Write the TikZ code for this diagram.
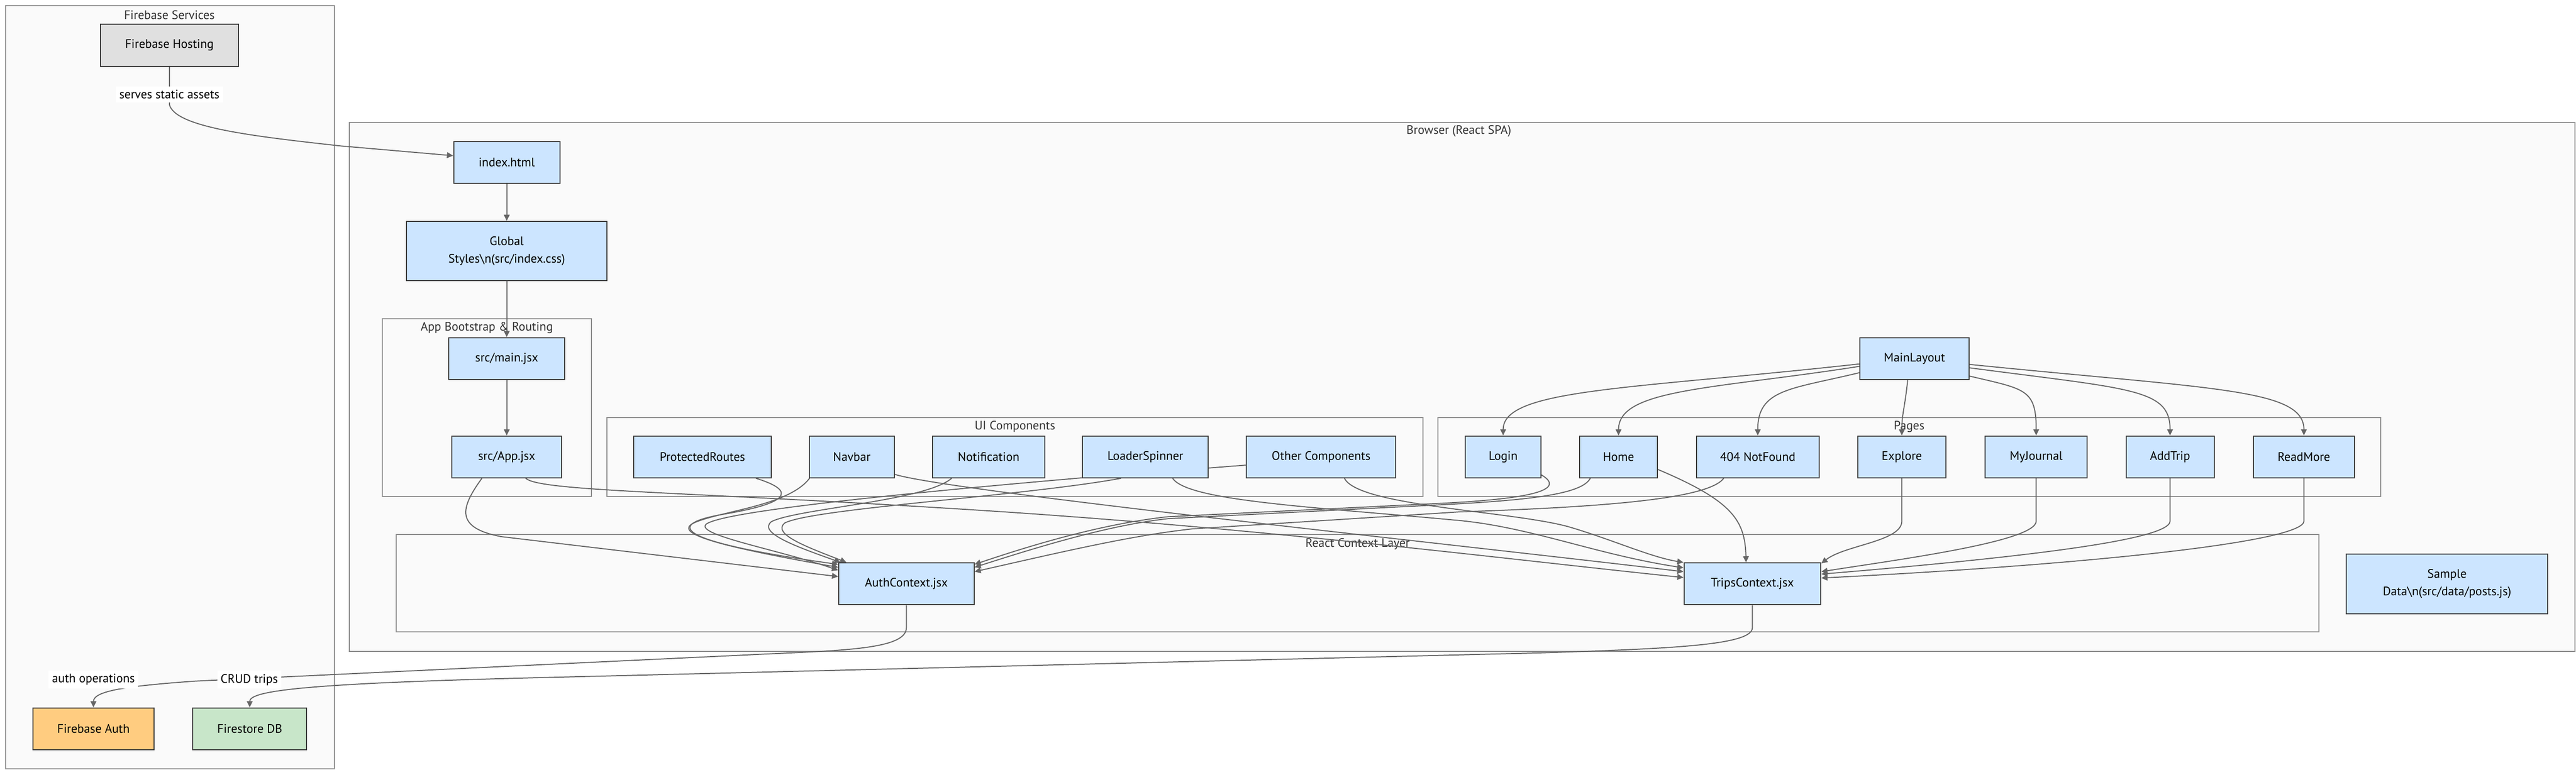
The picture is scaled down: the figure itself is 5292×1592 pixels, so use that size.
\documentclass[tikz,border=0pt]{standalone}
\usepackage{fontspec}
\setmainfont{PT Sans}
\usetikzlibrary{calc,arrows.meta}
\tikzset {>={Triangle[length=3.6pt,width=3.4pt]}}
\newcommand*{\bsn}{\textbackslash n}
\definecolor{reactblue}{HTML}{CCE5FF}
\definecolor{boxline}{HTML}{3A3A3A}
\definecolor{hostgray}{HTML}{E0E0E0}
\definecolor{authorange}{HTML}{FFCC80}
\definecolor{storegreen}{HTML}{C8E6C9}
\definecolor{grpfill}{HTML}{FAFAFA}
\definecolor{grpline}{HTML}{8C8C8C}
\definecolor{grptext}{HTML}{333333}
\definecolor{edgegray}{HTML}{666666}
\pgfdeclarelayer{bg}
\pgfdeclarelayer{mid}
\pgfsetlayers{bg,mid,main}

\begin{document}
\begin{tikzpicture}[x=.01cm,y=-.01cm,font=\fontsize{7.2}{10.2}\selectfont,
  box/.style={draw=boxline,fill=reactblue,line width=.6pt,minimum height=.86cm,align=center},
  grp/.style={draw=grpline,fill=grpfill,line width=.6pt},
  grptitle/.style={text=grptext},
  edge/.style={draw=edgegray,line width=.6pt,->},
  lbl/.style={fill=white,inner sep=2pt}]
\useasboundingbox (0,0) rectangle (5292,1592);
\begin{pgfonlayer}{bg}
\draw[grp] (12,12) rectangle (687,1580);
\draw[grp] (718,252) rectangle (5290,1339);
\draw[grp] (785,655) rectangle (1215,1020);
\draw[grp] (1247,858) rectangle (2923,1020);
\draw[grp] (2954,858) rectangle (4891,1020);
\draw[grp] (814,1099) rectangle (4764,1299);
\node[grptitle] (tfire) at (348,31) {Firebase Services};
\node[grptitle] (tbrowser) at (2997,270) {Browser (React SPA)};
\node[grptitle] (tboot) at (1000,674) {App Bootstrap \& Routing};
\node[grptitle] (tui) at (2085,877) {UI Components};
\node[grptitle] (tpages) at (3922,877) {Pages};
\node[grptitle] (tctx) at (2789,1118) {React Context Layer};
\end{pgfonlayer}
\node[box,fill=hostgray,minimum width=2.83cm] (hosting) at (348,93) {Firebase Hosting};
\node[box,fill=authorange,minimum width=2.48cm] (fauth) at (192,1498) {Firebase Auth};
\node[box,fill=storegreen,minimum width=2.34cm] (fstore) at (513,1498) {Firestore DB};
\node[box,minimum width=2.18cm] (index) at (1041,334) {index.html};
\node[box,minimum width=4.12cm,minimum height=1.22cm] (gstyles) at (1041,516) {Global\\Styles\bsn(src/index.css)};
\node[box,minimum width=2.38cm] (mainjsx) at (1041,737) {src/main.jsx};
\node[box,minimum width=2.26cm] (appjsx) at (1041,939) {src/App.jsx};
\foreach \n/\x/\w/\t in {protected/1443/2.82/ProtectedRoutes, navbar/1750/1.74/Navbar,
    notif/2031/2.30/Notification, loader/2353/2.58/LoaderSpinner, other/2714/3.07/Other Components,
    login/3088/1.55/Login, home/3325/1.60/Home, notfound/3611/2.52/404 NotFound, explore/3907/1.80/Explore,
    journal/4183/2.09/MyJournal, addtrip/4458/1.81/AddTrip, readmore/4733/2.07/ReadMore}
  \node[box,minimum width=\w cm] (\n) at (\x,939) {\t};
\node[box,minimum width=2.24cm] (mainlayout) at (3933,737) {MainLayout};
\node[box,minimum width=2.78cm] (auth) at (1862,1200) {AuthContext.jsx};
\node[box,minimum width=2.81cm] (trips) at (3600,1200) {TripsContext.jsx};
\node[box,minimum width=4.14cm,minimum height=1.23cm] (sample) at (5027,1200) {Sample\\Data\bsn(src/data/posts.js)};
\node[lbl] (lserve) at (348,194) {serves static assets};
\node[lbl] (lauth) at (192,1397) {auth operations};
\node[lbl] (lcrud) at (512,1397) {CRUD trips};
\begin{pgfonlayer}{mid}
\draw[edge] (hosting) -- (348,215) .. controls (360,262) and (520,280) .. (700,300) -- ($(index.west)+(0,-14)$);
\foreach \a/\b in {index/gstyles, gstyles/mainjsx, mainjsx/appjsx}
  \draw[edge] (\a) -- (\b);
% layout to pages
\foreach \p/\s/\dy/\c in {login/west/11/3350, home/west/16/3520, notfound/west/29/3680,
    journal/east/36/4160, addtrip/east/19/4380, readmore/east/12/4550}
  \draw[edge] ($(mainlayout.\s)+(0,\dy)$) .. controls (\c,800) and ($(\p.north)+(0,-96)$) .. (\p);
\draw[edge] ($(mainlayout.south)+(-14,0)$) .. controls (3913,840) and (3907,850) .. (explore);
% pages to trips
\foreach \p/\dy/\c/\cy in {explore/-42/3790/1120, journal/-25/3900/1150, addtrip/-20/4100/1150, readmore/-12/4300/1160}
  \draw[edge] (\p) -- ($(\p.south)+(0,88)$) .. controls ($(\p.south)+(0,130)$) and (\c,\cy) .. ($(trips.east)+(0,\dy)$);
\draw[edge] ($(home.east)+(0,26)$) .. controls (3560,1030) and (3585,1070) .. ($(trips.north)+(-13,0)$);
% into AuthContext
\draw[edge] ($(appjsx.south)+(-51,0)$) .. controls (945,1045) and (935,1085) .. (1030,1103) -- ($(auth.west)+(0,-15)$);
\draw[edge] ($(protected.south)+(110,0)$) .. controls (1640,1010) and (1620,1035) .. (1480,1058) .. controls (1360,1080) and (1400,1115) .. ($(auth.west)+(0,-40)$);
\draw[edge] ($(navbar.south)+(-87,0)$) .. controls (1620,1040) and (1480,1050) .. (1425,1075) .. controls (1385,1095) and (1460,1120) .. ($(auth.west)+(0,-34)$);
\draw[edge] ($(other.west)+(0,17)$) -- (2224,982) .. controls (1900,1010) and (1480,1050) .. (1450,1078) .. controls (1430,1100) and (1600,1130) .. ($(auth.west)+(0,-28)$);
\draw[edge] ($(notif.south)+(-76,0)$) .. controls (1900,1030) and (1640,1045) .. (1585,1072) .. controls (1555,1095) and (1640,1125) .. ($(auth.north west)+(5,0)$);
\draw[edge] ($(loader.south)+(-50,0)$) .. controls (2100,1020) and (1670,1045) .. (1612,1075) .. controls (1585,1098) and (1660,1125) .. ($(auth.north west)+(17,0)$);
\draw[edge] ($(login.south east)+(0,-7)$) .. controls (3215,1005) and (3160,1025) .. (2950,1035) -- (2400,1062) .. controls (2280,1075) and (2150,1110) .. ($(auth.east)+(0,-40)$);
\draw[edge] ($(home.south)+(-58,0)$) .. controls (3250,1015) and (3150,1028) .. (2950,1038) -- (2400,1066) .. controls (2290,1078) and (2160,1115) .. ($(auth.east)+(0,-34)$);
\draw[edge] ($(notfound.south)+(-70,0)$) .. controls (3510,1025) and (3300,1042) .. (3000,1052) -- (2450,1087) .. controls (2330,1100) and (2200,1130) .. ($(auth.east)+(0,-25)$);
% into TripsContext
\draw[edge] ($(appjsx.south)+(39,0)$) .. controls (1110,1010) and (1400,1010) .. (2000,1048) .. controls (2600,1086) and (3100,1150) .. ($(trips.west)+(0,-13)$);
\draw[edge] ($(navbar.east)+(0,36)$) .. controls (1950,1010) and (3000,1120) .. ($(trips.west)+(0,-25)$);
\draw[edge] ($(loader.south)+(56,0)$) .. controls (2440,1030) and (2700,1042) .. (3000,1070) .. controls (3150,1085) and (3280,1140) .. ($(trips.west)+(0,-33)$);
\draw[edge] ($(other.south)+(48,0)$) .. controls (2790,1040) and (3100,1050) .. (3220,1082) .. controls (3310,1108) and (3390,1145) .. (trips.north west);
% contexts to firebase
\draw[edge] (auth) -- (1862,1290) .. controls (1862,1330) and (1760,1336) .. (1600,1343) -- (400,1400) .. controls (260,1410) and (192,1420) .. (fauth);
\draw[edge] (trips) -- (3600,1290) .. controls (3600,1325) and (3450,1333) .. (3160,1342) -- (1100,1393) .. controls (620,1405) and (513,1420) .. (fstore);
\end{pgfonlayer}
\end{tikzpicture}
\end{document}
